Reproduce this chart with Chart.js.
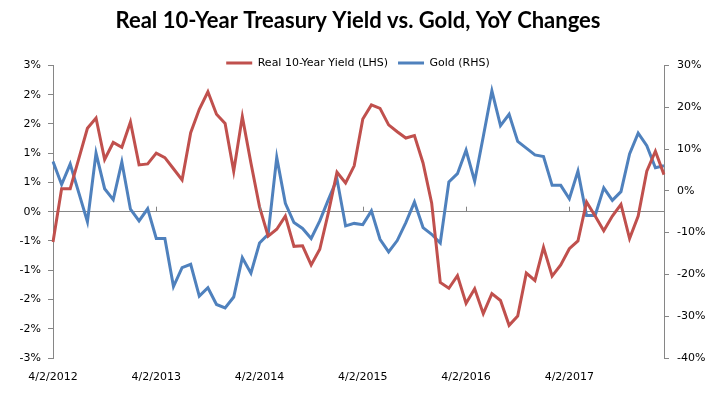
<!DOCTYPE html>
<html>
<head>
<meta charset="utf-8">
<script src="https://cdn.jsdelivr.net/npm/chart.js@4/dist/chart.umd.min.js"></script>
<style>
  body { margin: 0; background: #fff; }
  #wrap { width: 716px; height: 395px; position: relative; }
</style>
</head>
<body>
<div id="wrap"><canvas id="chart"></canvas></div>
<script>
// monthly observations, Apr 2012 .. Mar 2018
const months = [
  '2012-04', '2012-05', '2012-06', '2012-07', '2012-08', '2012-09', '2012-10', '2012-11', '2012-12', '2013-01', '2013-02', '2013-03',
  '2013-04', '2013-05', '2013-06', '2013-07', '2013-08', '2013-09', '2013-10', '2013-11', '2013-12', '2014-01', '2014-02', '2014-03',
  '2014-04', '2014-05', '2014-06', '2014-07', '2014-08', '2014-09', '2014-10', '2014-11', '2014-12', '2015-01', '2015-02', '2015-03',
  '2015-04', '2015-05', '2015-06', '2015-07', '2015-08', '2015-09', '2015-10', '2015-11', '2015-12', '2016-01', '2016-02', '2016-03',
  '2016-04', '2016-05', '2016-06', '2016-07', '2016-08', '2016-09', '2016-10', '2016-11', '2016-12', '2017-01', '2017-02', '2017-03',
  '2017-04', '2017-05', '2017-06', '2017-07', '2017-08', '2017-09', '2017-10', '2017-11', '2017-12', '2018-01', '2018-02', '2018-03'
];

// labels shown on the x axis, one per year
const xTickLabels = ['4/2/2012', '4/2/2013', '4/2/2014', '4/2/2015', '4/2/2016', '4/2/2017'];

// Real 10-Year Yield, YoY change (%), left axis
const realYield = [
  -0.62, 0.47, 0.47, 1.09, 1.71, 1.92, 1.07, 1.42, 1.32, 1.84, 0.96, 0.98,
  1.20, 1.11, 0.88, 0.65, 1.62, 2.10, 2.46, 2.00, 1.81, 0.83, 1.95, 1.00,
  0.10, -0.50, -0.36, -0.09, -0.71, -0.70, -1.09, -0.77, -0.02, 0.81, 0.59, 0.94,
  1.90, 2.19, 2.12, 1.78, 1.64, 1.51, 1.56, 1.00, 0.18, -1.45, -1.57, -1.31,
  -1.88, -1.58, -2.09, -1.68, -1.82, -2.33, -2.14, -1.26, -1.41, -0.73, -1.32, -1.09,
  -0.76, -0.60, 0.20, -0.09, -0.39, -0.09, 0.15, -0.55, -0.09, 0.83, 1.24, 0.76
];

// Gold, YoY change (%), right axis
const goldYoY = [
  7.0, 1.5, 6.4, -0.5, -7.4, 9.0, 0.5, -2.1, 6.9, -4.4, -7.2, -4.3,
  -11.4, -11.4, -22.9, -18.4, -17.6, -25.2, -23.2, -27.2, -28.0, -25.4, -16.0, -19.7,
  -12.5, -10.4, 8.0, -3.0, -7.6, -9.0, -11.4, -7.2, -2.1, 2.8, -8.4, -7.8,
  -8.1, -4.8, -11.6, -14.6, -11.9, -7.6, -2.7, -8.8, -10.4, -12.5, 2.1, 4.1,
  9.7, 2.3, 13.0, 23.9, 15.6, 18.3, 11.8, 10.2, 8.6, 8.2, 1.3, 1.3,
  -1.9, 4.7, -5.9, -5.9, 0.7, -2.3, -0.2, 8.8, 13.8, 10.8, 5.5, 6.0
];

const axisGray = '#868686';
const red = '#C0504D';
const blue = '#4F81BD';

Chart.defaults.font.family = '"DejaVu Sans", sans-serif';
Chart.defaults.font.size = 11;
Chart.defaults.color = '#000';

// excel puts the legend just on top of the plot; nudge it down
const legendNudge = {
  id: 'legendNudge',
  afterLayout(chart) {
    chart.legend.top += 13;
    chart.legend.bottom += 13;
  }
};

// small tick marks sitting on the 0% line, one per year
const yearTicks = {
  id: 'yearTicks',
  afterDatasetsDraw(chart) {
    const x = chart.scales.x;
    const y0 = chart.scales.y.getPixelForValue(0);
    const ctx = chart.ctx;
    ctx.save();
    ctx.strokeStyle = axisGray;
    ctx.lineWidth = 1;
    for (let i = 0; i < months.length; i += 12) {
      const px = Math.round(x.getPixelForValue(i)) + 0.5;
      ctx.beginPath();
      ctx.moveTo(px, y0);
      ctx.lineTo(px, y0 - 5);
      ctx.stroke();
    }
    ctx.restore();
  }
};

new Chart(document.getElementById('chart'), {
  type: 'line',
  data: {
    labels: months,
    datasets: [
      {
        label: 'Real 10-Year Yield (LHS)',
        data: realYield,
        borderColor: red,
        backgroundColor: red,
        borderWidth: 3,
        pointRadius: 0,
        tension: 0,
        yAxisID: 'y'
      },
      {
        label: 'Gold (RHS)',
        data: goldYoY,
        borderColor: blue,
        backgroundColor: blue,
        borderWidth: 3,
        pointRadius: 0,
        tension: 0,
        yAxisID: 'y2'
      }
    ]
  },
  options: {
    responsive: true,
    maintainAspectRatio: false,
    animation: false,
    layout: { padding: 0 },
    plugins: {
      title: {
        display: true,
        text: 'Real 10-Year Treasury Yield vs. Gold, YoY Changes',
        font: { family: 'Lato, sans-serif', size: 22, weight: 'bold' },
        color: '#000',
        padding: { top: 8, bottom: 0 }
      },
      legend: {
        position: 'top',
        labels: {
          usePointStyle: true,
          pointStyle: 'line',
          pointStyleWidth: 26,
          padding: 10,
          color: '#000'
        }
      },
      tooltip: { enabled: false }
    },
    scales: {
      x: {
        grid: { display: false, drawTicks: false },
        border: { display: false },
        ticks: {
          autoSkip: false,
          maxRotation: 0,
          padding: 13,
          callback: (v, i) => (i % 12 === 0 ? xTickLabels[i / 12] : '')
        },
        afterFit: s => { s.height = 37; }
      },
      y: {
        position: 'left',
        min: -3,
        max: 3,
        grid: {
          color: c => (c.tick && c.tick.value === 0 ? axisGray : 'rgba(0,0,0,0)'),
          tickColor: axisGray,
          tickLength: 5
        },
        border: { color: axisGray },
        ticks: {
          stepSize: 0.6,
          padding: 7,
          callback: v => Math.round(v) + '%'
        },
        afterFit: s => { s.width = 53; }
      },
      y2: {
        position: 'right',
        min: -40,
        max: 30,
        grid: { drawOnChartArea: false, tickColor: axisGray, tickLength: 5 },
        border: { color: axisGray },
        ticks: {
          stepSize: 10,
          padding: 8,
          callback: v => v + '%'
        },
        afterFit: s => { s.width = 52; }
      }
    }
  },
  plugins: [legendNudge, yearTicks]
});
</script>
</body>
</html>
